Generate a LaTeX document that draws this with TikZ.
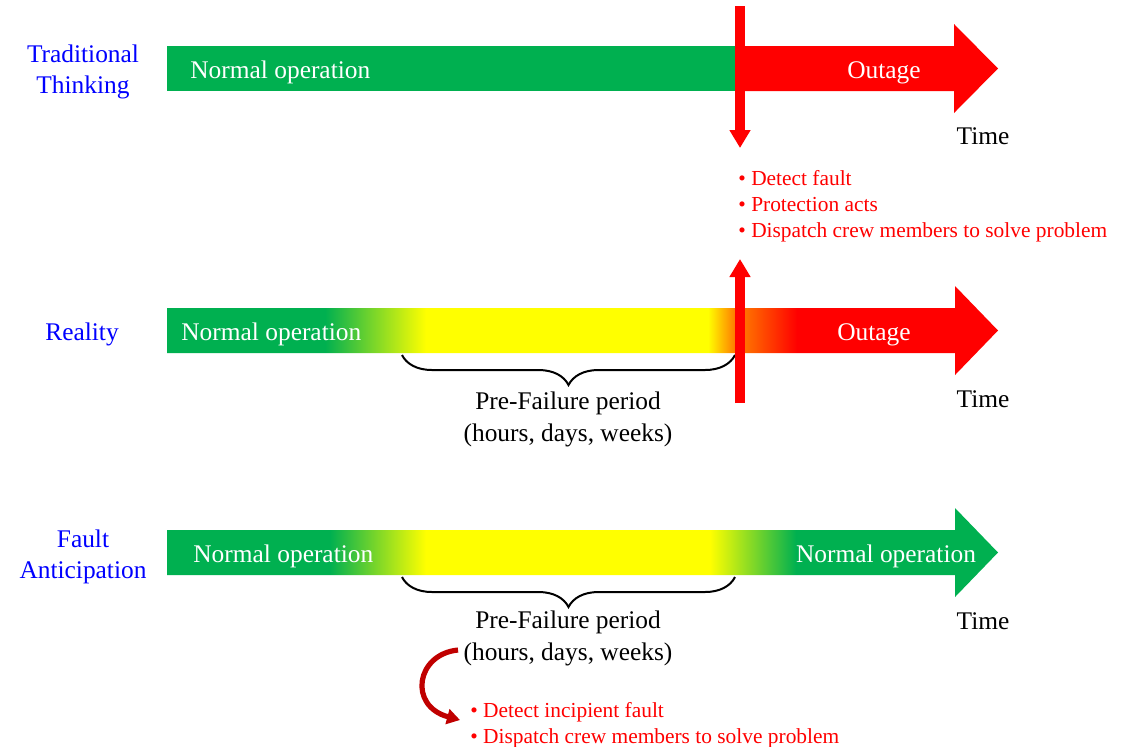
\documentclass[tikz,border=0pt]{standalone}
\usepackage{fontspec}
\setmainfont{Liberation Serif}
\usetikzlibrary{arrows.meta,decorations.pathreplacing}
\definecolor{opgreen}{HTML}{00B050}
\definecolor{fltred}{HTML}{FF0000}
\definecolor{warnyellow}{HTML}{FFFF00}
\definecolor{warnorange}{HTML}{FF7000}
\definecolor{rowblue}{HTML}{0000FF}
\definecolor{dkred}{HTML}{C00000}
% bar colours along the time axis (bar box is mapped onto 25bp..75bp)
\pgfdeclarehorizontalshading{realitybar}{100bp}{color(0bp)=(opgreen); color(34.51bp)=(opgreen);
  color(40.58bp)=(warnyellow); color(57.55bp)=(warnyellow); color(59.30bp)=(warnorange);
  color(59.78bp)=(warnorange); color(62.91bp)=(fltred); color(100bp)=(fltred)}
\pgfdeclarehorizontalshading{anticbar}{100bp}{color(0bp)=(opgreen); color(34.81bp)=(opgreen);
  color(40.58bp)=(warnyellow); color(57.67bp)=(warnyellow); color(62.85bp)=(opgreen);
  color(100bp)=(opgreen)}

\begin{document}
\begin{tikzpicture}[x=0.5pt,y=-0.5pt,
  bartext/.style={text=white,font=\fontsize{12.7}{16}\selectfont,inner sep=0pt},
  rowlabel/.style={text=rowblue,font=\fontsize{12.7}{15.5}\selectfont,align=center,inner sep=0pt,anchor=base},
  timelabel/.style={font=\fontsize{12.7}{16}\selectfont,inner sep=0pt,anchor=base},
  period/.style={font=\fontsize{12.7}{16}\selectfont,align=center,inner sep=0pt,anchor=base},
  notes/.style={text=fltred,font=\fontsize{10.7}{13}\selectfont,align=left,inner sep=0pt,anchor=base west},
  pfbrace/.style={decorate,decoration={brace,mirror,amplitude=15pt},line width=1pt},
  cutarrow/.style={fltred,line width=5pt,-{Triangle[width=10pt,length=9pt]}},
  turnarrow/.style={dkred,line width=2.6pt,-{Triangle[width=7.5pt,length=6.5pt]}}]
  \useasboundingbox (0,0) rectangle (1122,746);

  % traditional thinking
  \fill[opgreen] (167,46) rectangle (738,91);
  \fill[fltred] (737,46) -- (954,46) -- (954,24) -- (998,68.5) -- (954,113) -- (954,91) -- (737,91) -- cycle;
  \node[rowlabel] (trad) at (83,93.5) {Traditional\\Thinking};
  \node[bartext,anchor=base west] (norm1) at (190,78) {Normal operation};
  \node[bartext,anchor=base] (out1) at (884,78) {Outage};
  \node[timelabel] (time1) at (983,144) {Time};
  \coordinate (cut1a) at (740,6);
  \coordinate (cut1b) at (740,148);
  \draw[cutarrow] (cut1a) -- (cut1b);
  \node[notes] (act1) at (738,237) {\textbullet\ Detect fault\\\textbullet\ Protection acts\\\textbullet\ Dispatch crew members to solve problem};

  % reality
  \shade[shading=realitybar] (167,308) -- (955,308) -- (955,286) -- (998,330.5) -- (955,375) -- (955,353) -- (167,353) -- cycle;
  \node[rowlabel] (real) at (82,340) {Reality};
  \node[bartext,anchor=base west] (norm2) at (181,340) {Normal operation};
  \node[bartext,anchor=base] (out2) at (874,340) {Outage};
  \node[timelabel] (time2) at (983,407) {Time};
  \coordinate (br2a) at (402,355);
  \coordinate (br2b) at (735,355);
  \draw[pfbrace] (br2a) -- (br2b);
  \node[period] (pf2) at (568,441) {Pre-Failure period\\(hours, days, weeks)};
  \coordinate (cut2a) at (740,403);
  \coordinate (cut2b) at (740,259);
  \draw[cutarrow] (cut2a) -- (cut2b);

  % fault anticipation
  \shade[shading=anticbar] (167,530) -- (955,530) -- (955,508) -- (998,552.5) -- (955,597) -- (955,575) -- (167,575) -- cycle;
  \node[rowlabel] (antic) at (83,578) {Fault\\Anticipation};
  \node[bartext,anchor=base west] (norm3) at (193,562) {Normal operation};
  \node[bartext,anchor=base] (norm4) at (886,562) {Normal operation};
  \node[timelabel] (time3) at (983,629) {Time};
  \coordinate (br3a) at (402,577);
  \coordinate (br3b) at (735,577);
  \draw[pfbrace] (br3a) -- (br3b);
  \node[period] (pf3) at (568,660.5) {Pre-Failure period\\(hours, days, weeks)};
  \node[notes] (act3) at (470,743) {\textbullet\ Detect incipient fault\\\textbullet\ Dispatch crew members to solve problem};
  \coordinate (turn3a) at (458,650);
  \coordinate (turn3b) at (460,720);
  \draw[turnarrow] (turn3a) .. controls (416,654) and (408,706) .. (turn3b);
\end{tikzpicture}
\end{document}
